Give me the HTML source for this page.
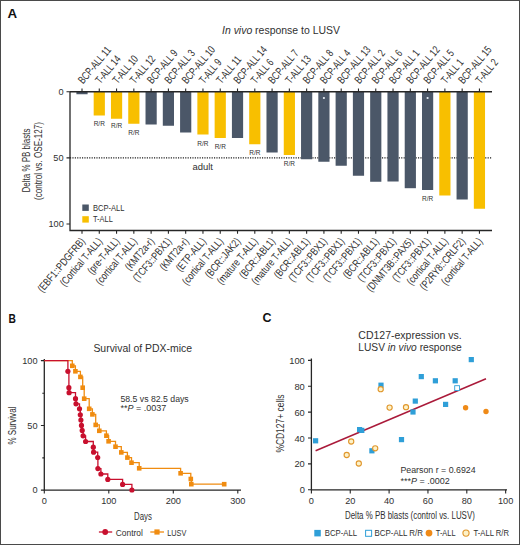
<!DOCTYPE html>
<html><head><meta charset="utf-8"><style>
html,body{margin:0;padding:0;background:#fff;}
body{width:520px;height:545px;overflow:hidden;}
svg{display:block;font-family:"Liberation Sans", sans-serif;}
</style></head><body>
<svg width="520" height="545" viewBox="0 0 520 545">
<rect x="0" y="0" width="520" height="545" fill="#fff"/>
<text x="7.6" y="18.3" font-size="13" text-anchor="start" fill="#111" font-weight="bold" textLength="9.6" lengthAdjust="spacingAndGlyphs"  style="">A</text>
<text x="222" y="34" font-size="11" text-anchor="start" fill="#303030" font-weight="normal" textLength="118" lengthAdjust="spacingAndGlyphs"  style=""><tspan font-style="italic">In vivo</tspan> response to LUSV</text>
<line x1="70" y1="157.9" x2="492" y2="157.9" stroke="#1a1a1a" stroke-width="1.25" stroke-dasharray="1.15 1.25"/>
<rect x="76.40" y="91.75" width="11.2" height="2.50" fill="#4b5768"/>
<rect x="93.68" y="91.75" width="11.2" height="23.75" fill="#f8bf00"/>
<rect x="110.96" y="91.75" width="11.2" height="27.00" fill="#f8bf00"/>
<rect x="128.24" y="91.75" width="11.2" height="32.00" fill="#f8bf00"/>
<rect x="145.52" y="91.75" width="11.2" height="32.75" fill="#4b5768"/>
<rect x="162.80" y="91.75" width="11.2" height="34.00" fill="#4b5768"/>
<rect x="180.08" y="91.75" width="11.2" height="40.75" fill="#4b5768"/>
<rect x="197.36" y="91.75" width="11.2" height="42.75" fill="#f8bf00"/>
<rect x="214.64" y="91.75" width="11.2" height="46.25" fill="#f8bf00"/>
<rect x="231.92" y="91.75" width="11.2" height="46.25" fill="#4b5768"/>
<rect x="249.20" y="91.75" width="11.2" height="52.50" fill="#f8bf00"/>
<rect x="266.48" y="91.75" width="11.2" height="60.75" fill="#4b5768"/>
<rect x="283.76" y="91.75" width="11.2" height="63.25" fill="#f8bf00"/>
<rect x="301.04" y="91.75" width="11.2" height="67.50" fill="#4b5768"/>
<rect x="318.32" y="91.75" width="11.2" height="70.00" fill="#4b5768"/>
<rect x="335.60" y="91.75" width="11.2" height="74.00" fill="#4b5768"/>
<rect x="352.88" y="91.75" width="11.2" height="84.00" fill="#4b5768"/>
<rect x="370.16" y="91.75" width="11.2" height="90.00" fill="#4b5768"/>
<rect x="387.44" y="91.75" width="11.2" height="89.75" fill="#4b5768"/>
<rect x="404.72" y="91.75" width="11.2" height="96.45" fill="#4b5768"/>
<rect x="422.00" y="91.75" width="11.2" height="98.25" fill="#4b5768"/>
<rect x="439.28" y="91.75" width="11.2" height="103.75" fill="#f8bf00"/>
<rect x="456.56" y="91.75" width="11.2" height="107.75" fill="#4b5768"/>
<rect x="473.84" y="91.75" width="11.2" height="117.00" fill="#f8bf00"/>
<circle cx="323.92" cy="98" r="1.1" fill="#e8eef5"/>
<circle cx="427.60" cy="98" r="1.1" fill="#e8eef5"/>
<text x="99.28" y="125.80" font-size="7.9" text-anchor="middle" fill="#303030" font-weight="normal" textLength="11.2" lengthAdjust="spacingAndGlyphs"  style="">R/R</text>
<text x="116.56" y="127.70" font-size="7.9" text-anchor="middle" fill="#303030" font-weight="normal" textLength="11.2" lengthAdjust="spacingAndGlyphs"  style="">R/R</text>
<text x="133.84" y="134.80" font-size="7.9" text-anchor="middle" fill="#303030" font-weight="normal" textLength="11.2" lengthAdjust="spacingAndGlyphs"  style="">R/R</text>
<text x="202.96" y="146.20" font-size="7.9" text-anchor="middle" fill="#303030" font-weight="normal" textLength="11.2" lengthAdjust="spacingAndGlyphs"  style="">R/R</text>
<text x="220.24" y="149.40" font-size="7.9" text-anchor="middle" fill="#303030" font-weight="normal" textLength="11.2" lengthAdjust="spacingAndGlyphs"  style="">R/R</text>
<text x="254.80" y="154.70" font-size="7.9" text-anchor="middle" fill="#303030" font-weight="normal" textLength="11.2" lengthAdjust="spacingAndGlyphs"  style="">R/R</text>
<text x="289.36" y="166.20" font-size="7.9" text-anchor="middle" fill="#303030" font-weight="normal" textLength="11.2" lengthAdjust="spacingAndGlyphs"  style="">R/R</text>
<text x="427.60" y="201.30" font-size="7.9" text-anchor="middle" fill="#303030" font-weight="normal" textLength="11.2" lengthAdjust="spacingAndGlyphs"  style="">R/R</text>
<text x="192.5" y="170.2" font-size="8.6" text-anchor="start" fill="#303030" font-weight="normal" textLength="20.5" lengthAdjust="spacingAndGlyphs"  style="">adult</text>
<path d="M70 91.75 V230.5 H492 M70 91.75 H492" fill="none" stroke="#262626" stroke-width="1.3"/>
<path d="M82.00 91.75 v-3.3 M82.00 230.5 v3.3 M99.28 91.75 v-3.3 M99.28 230.5 v3.3 M116.56 91.75 v-3.3 M116.56 230.5 v3.3 M133.84 91.75 v-3.3 M133.84 230.5 v3.3 M151.12 91.75 v-3.3 M151.12 230.5 v3.3 M168.40 91.75 v-3.3 M168.40 230.5 v3.3 M185.68 91.75 v-3.3 M185.68 230.5 v3.3 M202.96 91.75 v-3.3 M202.96 230.5 v3.3 M220.24 91.75 v-3.3 M220.24 230.5 v3.3 M237.52 91.75 v-3.3 M237.52 230.5 v3.3 M254.80 91.75 v-3.3 M254.80 230.5 v3.3 M272.08 91.75 v-3.3 M272.08 230.5 v3.3 M289.36 91.75 v-3.3 M289.36 230.5 v3.3 M306.64 91.75 v-3.3 M306.64 230.5 v3.3 M323.92 91.75 v-3.3 M323.92 230.5 v3.3 M341.20 91.75 v-3.3 M341.20 230.5 v3.3 M358.48 91.75 v-3.3 M358.48 230.5 v3.3 M375.76 91.75 v-3.3 M375.76 230.5 v3.3 M393.04 91.75 v-3.3 M393.04 230.5 v3.3 M410.32 91.75 v-3.3 M410.32 230.5 v3.3 M427.60 91.75 v-3.3 M427.60 230.5 v3.3 M444.88 91.75 v-3.3 M444.88 230.5 v3.3 M462.16 91.75 v-3.3 M462.16 230.5 v3.3 M479.44 91.75 v-3.3 M479.44 230.5 v3.3 M70 91.75 h-3.5 M70 157.9 h-3.5 M70 224.05 h-3.5" fill="none" stroke="#262626" stroke-width="1.1"/>
<text x="63.6" y="94.8" font-size="9.2" text-anchor="end" fill="#303030" font-weight="normal"  style="">0</text>
<text x="63.6" y="160.6" font-size="9.2" text-anchor="end" fill="#303030" font-weight="normal"  style="">50</text>
<text x="63.8" y="226.6" font-size="9.2" text-anchor="end" fill="#303030" font-weight="normal"  style="">100</text>
<g transform="translate(30.2 160.5) rotate(-90)"><text x="0" y="0" font-size="10" text-anchor="middle" fill="#303030" textLength="64" lengthAdjust="spacingAndGlyphs">Delta % PB blasts</text></g>
<g transform="translate(42.4 161) rotate(-90)"><text x="0" y="0" font-size="10" text-anchor="middle" fill="#303030" textLength="78" lengthAdjust="spacingAndGlyphs">(control vs. OSE-127)</text></g>
<rect x="82.3" y="204.5" width="6.5" height="6.4" fill="#4b5768"/>
<rect x="82.3" y="216.2" width="6.5" height="6.4" fill="#f8bf00"/>
<text x="93" y="210.6" font-size="8.4" text-anchor="start" fill="#303030" font-weight="normal" textLength="31.5" lengthAdjust="spacingAndGlyphs"  style="">BCP-ALL</text>
<text x="93" y="222.2" font-size="8.4" text-anchor="start" fill="#303030" font-weight="normal" textLength="19.8" lengthAdjust="spacingAndGlyphs"  style="">T-ALL</text>
<g transform="translate(83.00 84.6) rotate(-50)"><text x="0" y="0" font-size="11" fill="#303030" textLength="44.68" lengthAdjust="spacingAndGlyphs">BCP-ALL 11</text></g>
<g transform="translate(100.28 84.6) rotate(-50)"><text x="0" y="0" font-size="11" fill="#303030" textLength="32.98" lengthAdjust="spacingAndGlyphs">T-ALL 14</text></g>
<g transform="translate(117.56 84.6) rotate(-50)"><text x="0" y="0" font-size="11" fill="#303030" textLength="32.98" lengthAdjust="spacingAndGlyphs">T-ALL 10</text></g>
<g transform="translate(134.84 84.6) rotate(-50)"><text x="0" y="0" font-size="11" fill="#303030" textLength="32.98" lengthAdjust="spacingAndGlyphs">T-ALL 12</text></g>
<g transform="translate(152.12 84.6) rotate(-50)"><text x="0" y="0" font-size="11" fill="#303030" textLength="40.72" lengthAdjust="spacingAndGlyphs">BCP-ALL 9</text></g>
<g transform="translate(169.40 84.6) rotate(-50)"><text x="0" y="0" font-size="11" fill="#303030" textLength="40.72" lengthAdjust="spacingAndGlyphs">BCP-ALL 3</text></g>
<g transform="translate(186.68 84.6) rotate(-50)"><text x="0" y="0" font-size="11" fill="#303030" textLength="45.28" lengthAdjust="spacingAndGlyphs">BCP-ALL 10</text></g>
<g transform="translate(203.96 84.6) rotate(-50)"><text x="0" y="0" font-size="11" fill="#303030" textLength="28.42" lengthAdjust="spacingAndGlyphs">T-ALL 9</text></g>
<g transform="translate(221.24 84.6) rotate(-50)"><text x="0" y="0" font-size="11" fill="#303030" textLength="32.36" lengthAdjust="spacingAndGlyphs">T-ALL 11</text></g>
<g transform="translate(238.52 84.6) rotate(-50)"><text x="0" y="0" font-size="11" fill="#303030" textLength="45.28" lengthAdjust="spacingAndGlyphs">BCP-ALL 14</text></g>
<g transform="translate(255.80 84.6) rotate(-50)"><text x="0" y="0" font-size="11" fill="#303030" textLength="28.42" lengthAdjust="spacingAndGlyphs">T-ALL 6</text></g>
<g transform="translate(273.08 84.6) rotate(-50)"><text x="0" y="0" font-size="11" fill="#303030" textLength="40.72" lengthAdjust="spacingAndGlyphs">BCP-ALL 7</text></g>
<g transform="translate(290.36 84.6) rotate(-50)"><text x="0" y="0" font-size="11" fill="#303030" textLength="32.98" lengthAdjust="spacingAndGlyphs">T-ALL 13</text></g>
<g transform="translate(307.64 84.6) rotate(-50)"><text x="0" y="0" font-size="11" fill="#303030" textLength="40.72" lengthAdjust="spacingAndGlyphs">BCP-ALL 8</text></g>
<g transform="translate(324.92 84.6) rotate(-50)"><text x="0" y="0" font-size="11" fill="#303030" textLength="40.72" lengthAdjust="spacingAndGlyphs">BCP-ALL 4</text></g>
<g transform="translate(342.20 84.6) rotate(-50)"><text x="0" y="0" font-size="11" fill="#303030" textLength="45.28" lengthAdjust="spacingAndGlyphs">BCP-ALL 13</text></g>
<g transform="translate(359.48 84.6) rotate(-50)"><text x="0" y="0" font-size="11" fill="#303030" textLength="40.72" lengthAdjust="spacingAndGlyphs">BCP-ALL 2</text></g>
<g transform="translate(376.76 84.6) rotate(-50)"><text x="0" y="0" font-size="11" fill="#303030" textLength="40.72" lengthAdjust="spacingAndGlyphs">BCP-ALL 6</text></g>
<g transform="translate(394.04 84.6) rotate(-50)"><text x="0" y="0" font-size="11" fill="#303030" textLength="40.72" lengthAdjust="spacingAndGlyphs">BCP-ALL 1</text></g>
<g transform="translate(411.32 84.6) rotate(-50)"><text x="0" y="0" font-size="11" fill="#303030" textLength="45.28" lengthAdjust="spacingAndGlyphs">BCP-ALL 12</text></g>
<g transform="translate(428.60 84.6) rotate(-50)"><text x="0" y="0" font-size="11" fill="#303030" textLength="40.72" lengthAdjust="spacingAndGlyphs">BCP-ALL 5</text></g>
<g transform="translate(445.88 84.6) rotate(-50)"><text x="0" y="0" font-size="11" fill="#303030" textLength="28.42" lengthAdjust="spacingAndGlyphs">T-ALL 1</text></g>
<g transform="translate(463.16 84.6) rotate(-50)"><text x="0" y="0" font-size="11" fill="#303030" textLength="45.28" lengthAdjust="spacingAndGlyphs">BCP-ALL 15</text></g>
<g transform="translate(480.44 84.6) rotate(-50)"><text x="0" y="0" font-size="11" fill="#303030" textLength="28.42" lengthAdjust="spacingAndGlyphs">T-ALL 2</text></g>
<g transform="translate(85.60 241.6) rotate(-50)"><text x="0" y="0" font-size="10.8" text-anchor="end" fill="#303030" textLength="67.07" lengthAdjust="spacingAndGlyphs">(EBF1::PDGFRB)</text></g>
<g transform="translate(102.88 241.6) rotate(-50)"><text x="0" y="0" font-size="10.8" text-anchor="end" fill="#303030" textLength="59.37" lengthAdjust="spacingAndGlyphs">(Cortical T-ALL)</text></g>
<g transform="translate(120.16 241.6) rotate(-50)"><text x="0" y="0" font-size="10.8" text-anchor="end" fill="#303030" textLength="43.46" lengthAdjust="spacingAndGlyphs">(pre-T-ALL)</text></g>
<g transform="translate(137.44 241.6) rotate(-50)"><text x="0" y="0" font-size="10.8" text-anchor="end" fill="#303030" textLength="57.48" lengthAdjust="spacingAndGlyphs">(cortical T-ALL)</text></g>
<g transform="translate(154.72 241.6) rotate(-50)"><text x="0" y="0" font-size="10.8" text-anchor="end" fill="#303030" textLength="38.73" lengthAdjust="spacingAndGlyphs">(KMT2a-r)</text></g>
<g transform="translate(172.00 241.6) rotate(-50)"><text x="0" y="0" font-size="10.8" text-anchor="end" fill="#303030" textLength="53.38" lengthAdjust="spacingAndGlyphs">(TCF3::PBX1)</text></g>
<g transform="translate(189.28 241.6) rotate(-50)"><text x="0" y="0" font-size="10.8" text-anchor="end" fill="#303030" textLength="38.73" lengthAdjust="spacingAndGlyphs">(KMT2a-r)</text></g>
<g transform="translate(206.56 241.6) rotate(-50)"><text x="0" y="0" font-size="10.8" text-anchor="end" fill="#303030" textLength="40.15" lengthAdjust="spacingAndGlyphs">(ETP-ALL)</text></g>
<g transform="translate(223.84 241.6) rotate(-50)"><text x="0" y="0" font-size="10.8" text-anchor="end" fill="#303030" textLength="57.48" lengthAdjust="spacingAndGlyphs">(cortical T-ALL)</text></g>
<g transform="translate(241.12 241.6) rotate(-50)"><text x="0" y="0" font-size="10.8" text-anchor="end" fill="#303030" textLength="48.65" lengthAdjust="spacingAndGlyphs">(BCR::JAK2)</text></g>
<g transform="translate(258.40 241.6) rotate(-50)"><text x="0" y="0" font-size="10.8" text-anchor="end" fill="#303030" textLength="57.00" lengthAdjust="spacingAndGlyphs">(mature T-ALL)</text></g>
<g transform="translate(275.68 241.6) rotate(-50)"><text x="0" y="0" font-size="10.8" text-anchor="end" fill="#303030" textLength="49.13" lengthAdjust="spacingAndGlyphs">(BCR::ABL1)</text></g>
<g transform="translate(292.96 241.6) rotate(-50)"><text x="0" y="0" font-size="10.8" text-anchor="end" fill="#303030" textLength="57.00" lengthAdjust="spacingAndGlyphs">(mature T-ALL)</text></g>
<g transform="translate(310.24 241.6) rotate(-50)"><text x="0" y="0" font-size="10.8" text-anchor="end" fill="#303030" textLength="49.13" lengthAdjust="spacingAndGlyphs">(BCR::ABL1)</text></g>
<g transform="translate(327.52 241.6) rotate(-50)"><text x="0" y="0" font-size="10.8" text-anchor="end" fill="#303030" textLength="53.38" lengthAdjust="spacingAndGlyphs">(TCF3::PBX1)</text></g>
<g transform="translate(344.80 241.6) rotate(-50)"><text x="0" y="0" font-size="10.8" text-anchor="end" fill="#303030" textLength="53.38" lengthAdjust="spacingAndGlyphs">(TCF3::PBX1)</text></g>
<g transform="translate(362.08 241.6) rotate(-50)"><text x="0" y="0" font-size="10.8" text-anchor="end" fill="#303030" textLength="53.38" lengthAdjust="spacingAndGlyphs">(TCF3::PBX1)</text></g>
<g transform="translate(379.36 241.6) rotate(-50)"><text x="0" y="0" font-size="10.8" text-anchor="end" fill="#303030" textLength="49.13" lengthAdjust="spacingAndGlyphs">(BCR::ABL1)</text></g>
<g transform="translate(396.64 241.6) rotate(-50)"><text x="0" y="0" font-size="10.8" text-anchor="end" fill="#303030" textLength="53.38" lengthAdjust="spacingAndGlyphs">(TCF3::PBX1)</text></g>
<g transform="translate(413.92 241.6) rotate(-50)"><text x="0" y="0" font-size="10.8" text-anchor="end" fill="#303030" textLength="66.45" lengthAdjust="spacingAndGlyphs">(DNMT3B::PAX5)</text></g>
<g transform="translate(431.20 241.6) rotate(-50)"><text x="0" y="0" font-size="10.8" text-anchor="end" fill="#303030" textLength="53.38" lengthAdjust="spacingAndGlyphs">(TCF3::PBX1)</text></g>
<g transform="translate(448.48 241.6) rotate(-50)"><text x="0" y="0" font-size="10.8" text-anchor="end" fill="#303030" textLength="57.48" lengthAdjust="spacingAndGlyphs">(cortical T-ALL)</text></g>
<g transform="translate(465.76 241.6) rotate(-50)"><text x="0" y="0" font-size="10.8" text-anchor="end" fill="#303030" textLength="64.10" lengthAdjust="spacingAndGlyphs">(P2RY8::CRLF2)</text></g>
<g transform="translate(483.04 241.6) rotate(-50)"><text x="0" y="0" font-size="10.8" text-anchor="end" fill="#303030" textLength="57.48" lengthAdjust="spacingAndGlyphs">(cortical T-ALL)</text></g>
<text x="8.5" y="322.6" font-size="12.8" text-anchor="start" fill="#111" font-weight="bold" textLength="7.4" lengthAdjust="spacingAndGlyphs"  style="">B</text>
<text x="93.4" y="352.3" font-size="11.6" text-anchor="start" fill="#303030" font-weight="normal" textLength="98.6" lengthAdjust="spacingAndGlyphs"  style="">Survival of PDX-mice</text>
<path d="M44.3 359.1 V490.1 H241" fill="none" stroke="#262626" stroke-width="1.3"/>
<path d="M44.3 360.6 h-3.4 M44.3 425.55 h-3.4 M44.3 490.1 h-3.4 M44.3 393.28 h-2 M44.3 457.83 h-2 M44.30 490.1 v3.4 M108.80 490.1 v3.4 M173.30 490.1 v3.4 M237.80 490.1 v3.4 " fill="none" stroke="#262626" stroke-width="1.1"/>
<text x="37.5" y="363.8" font-size="9.2" text-anchor="end" fill="#303030" font-weight="normal"  style="">100</text>
<text x="37.5" y="428.6" font-size="9.2" text-anchor="end" fill="#303030" font-weight="normal"  style="">50</text>
<text x="37.5" y="492.9" font-size="9.2" text-anchor="end" fill="#303030" font-weight="normal"  style="">0</text>
<text x="44.30" y="504.4" font-size="9.2" text-anchor="middle" fill="#303030" font-weight="normal"  style="">0</text>
<text x="108.80" y="504.4" font-size="9.2" text-anchor="middle" fill="#303030" font-weight="normal"  style="">100</text>
<text x="173.30" y="504.4" font-size="9.2" text-anchor="middle" fill="#303030" font-weight="normal"  style="">200</text>
<text x="237.80" y="504.4" font-size="9.2" text-anchor="middle" fill="#303030" font-weight="normal"  style="">300</text>
<g transform="translate(16.3 425.6) rotate(-90)"><text x="0" y="0" font-size="10" text-anchor="middle" fill="#303030" textLength="38" lengthAdjust="spacingAndGlyphs">% Survival</text></g>
<text x="134" y="520.2" font-size="10" text-anchor="start" fill="#303030" font-weight="normal" textLength="17.8" lengthAdjust="spacingAndGlyphs"  style="">Days</text>
<text x="120.4" y="401.8" font-size="9.2" text-anchor="start" fill="#303030" font-weight="normal" textLength="68.3" lengthAdjust="spacingAndGlyphs"  style="">58.5 vs 82.5 days</text>
<text x="120.4" y="411.3" font-size="9.2" text-anchor="start" fill="#303030" font-weight="normal" textLength="45.8" lengthAdjust="spacingAndGlyphs"  style="">**<tspan font-style="italic">P</tspan> = .0037</text>
<path d="M44.3 360.6 H72.3 V365.8 H75.4 V371.3 H80.4 V376.9 H82.7 V387.7 H84.2 V398.7 H89.2 V408.8 H92.4 V414.4 H95.7 V424.9 H99.3 V430.8 H106.4 V435.7 H108.6 V441.3 H115.5 V446.7 H121.3 V452.4 H127.4 V457.6 H131.5 V462.7 H139.2 V468.3 H180.6 V473.3 H190.8 V479 H191.3 V484.2 H224.2 V484.2" fill="none" stroke="#f08c10" stroke-width="1.3"/>
<path d="M44.3 360.6 H67.9 V371.3 H68.9 V387.7 H69.1 V392.7 H75.5 V398.7 H76 V403.8 H79.5 V408.8 H80.3 V414.8 H80.9 V420 H81.5 V425.4 H82.2 V430.4 H83.1 V435.8 H85.6 V441.5 H93.3 V447.2 H93.6 V452.2 H97.7 V457.5 H97.9 V468.6 H100.9 V474 H107.8 V479.4 H122.6 V484.4 H131.9 V490" fill="none" stroke="#c8102e" stroke-width="1.3"/>
<rect x="70.00" y="363.50" width="4.6" height="4.6" fill="#f08c10"/>
<rect x="73.10" y="369.00" width="4.6" height="4.6" fill="#f08c10"/>
<rect x="78.10" y="374.60" width="4.6" height="4.6" fill="#f08c10"/>
<rect x="80.40" y="385.40" width="4.6" height="4.6" fill="#f08c10"/>
<rect x="81.90" y="396.40" width="4.6" height="4.6" fill="#f08c10"/>
<rect x="86.90" y="406.50" width="4.6" height="4.6" fill="#f08c10"/>
<rect x="90.10" y="412.10" width="4.6" height="4.6" fill="#f08c10"/>
<rect x="93.40" y="422.60" width="4.6" height="4.6" fill="#f08c10"/>
<rect x="97.00" y="428.50" width="4.6" height="4.6" fill="#f08c10"/>
<rect x="104.10" y="433.40" width="4.6" height="4.6" fill="#f08c10"/>
<rect x="106.30" y="439.00" width="4.6" height="4.6" fill="#f08c10"/>
<rect x="113.20" y="444.40" width="4.6" height="4.6" fill="#f08c10"/>
<rect x="119.00" y="450.10" width="4.6" height="4.6" fill="#f08c10"/>
<rect x="125.10" y="455.30" width="4.6" height="4.6" fill="#f08c10"/>
<rect x="129.20" y="460.40" width="4.6" height="4.6" fill="#f08c10"/>
<rect x="136.90" y="466.00" width="4.6" height="4.6" fill="#f08c10"/>
<rect x="178.30" y="471.00" width="4.6" height="4.6" fill="#f08c10"/>
<rect x="188.50" y="476.70" width="4.6" height="4.6" fill="#f08c10"/>
<rect x="189.00" y="481.90" width="4.6" height="4.6" fill="#f08c10"/>
<rect x="221.90" y="481.90" width="4.6" height="4.6" fill="#f08c10"/>
<circle cx="67.9" cy="371.3" r="2.6" fill="#c8102e"/>
<circle cx="68.9" cy="387.7" r="2.6" fill="#c8102e"/>
<circle cx="69.1" cy="392.7" r="2.6" fill="#c8102e"/>
<circle cx="75.5" cy="398.7" r="2.6" fill="#c8102e"/>
<circle cx="76" cy="403.8" r="2.6" fill="#c8102e"/>
<circle cx="79.5" cy="408.8" r="2.6" fill="#c8102e"/>
<circle cx="80.3" cy="414.8" r="2.6" fill="#c8102e"/>
<circle cx="80.9" cy="420" r="2.6" fill="#c8102e"/>
<circle cx="81.5" cy="425.4" r="2.6" fill="#c8102e"/>
<circle cx="82.2" cy="430.4" r="2.6" fill="#c8102e"/>
<circle cx="83.1" cy="435.8" r="2.6" fill="#c8102e"/>
<circle cx="85.6" cy="441.5" r="2.6" fill="#c8102e"/>
<circle cx="93.3" cy="447.2" r="2.6" fill="#c8102e"/>
<circle cx="93.6" cy="452.2" r="2.6" fill="#c8102e"/>
<circle cx="97.7" cy="457.5" r="2.6" fill="#c8102e"/>
<circle cx="97.9" cy="468.6" r="2.6" fill="#c8102e"/>
<circle cx="100.9" cy="474" r="2.6" fill="#c8102e"/>
<circle cx="107.8" cy="479.4" r="2.6" fill="#c8102e"/>
<circle cx="122.6" cy="484.4" r="2.6" fill="#c8102e"/>
<circle cx="131.9" cy="490" r="2.6" fill="#c8102e"/>
<line x1="98.9" y1="532" x2="112.2" y2="532" stroke="#c8102e" stroke-width="1.3"/><circle cx="105.2" cy="532" r="2.9" fill="#c8102e"/>
<text x="115.8" y="535.8" font-size="9.2" text-anchor="start" fill="#303030" font-weight="normal" textLength="27.1" lengthAdjust="spacingAndGlyphs"  style="">Control</text>
<line x1="150.3" y1="532" x2="164" y2="532" stroke="#f08c10" stroke-width="1.3"/><rect x="154.4" y="529.4" width="5.2" height="5.2" fill="#f08c10"/>
<text x="167.2" y="535.8" font-size="9.2" text-anchor="start" fill="#303030" font-weight="normal" textLength="19.1" lengthAdjust="spacingAndGlyphs"  style="">LUSV</text>
<text x="262.4" y="322.4" font-size="12.8" text-anchor="start" fill="#111" font-weight="bold" textLength="9" lengthAdjust="spacingAndGlyphs"  style="">C</text>
<text x="410" y="338.7" font-size="11.5" text-anchor="middle" fill="#303030" font-weight="normal" textLength="103.4" lengthAdjust="spacingAndGlyphs"  style="">CD127-expression vs.</text>
<text x="410" y="351.2" font-size="11.5" text-anchor="middle" fill="#303030" font-weight="normal" textLength="103.4" lengthAdjust="spacingAndGlyphs"  style="">LUSV <tspan font-style="italic">in vivo</tspan> response</text>
<path d="M311.4 358.5 V489.8 H507" fill="none" stroke="#262626" stroke-width="1.3"/>
<path d="M311.4 489.80 h-3.4 M311.40 489.8 v3.6 M311.4 463.91 h-3.4 M350.25 489.8 v3.6 M311.4 438.02 h-3.4 M389.10 489.8 v3.6 M311.4 412.13 h-3.4 M427.95 489.8 v3.6 M311.4 386.24 h-3.4 M466.80 489.8 v3.6 M311.4 360.35 h-3.4 M505.65 489.8 v3.6 " fill="none" stroke="#262626" stroke-width="1.1"/>
<text x="304.8" y="493.30" font-size="9.3" text-anchor="end" fill="#303030" font-weight="normal"  style="">0</text>
<text x="311.40" y="504.4" font-size="9.2" text-anchor="middle" fill="#303030" font-weight="normal"  style="">0</text>
<text x="304.8" y="467.41" font-size="9.3" text-anchor="end" fill="#303030" font-weight="normal"  style="">20</text>
<text x="350.25" y="504.4" font-size="9.2" text-anchor="middle" fill="#303030" font-weight="normal"  style="">20</text>
<text x="304.8" y="441.52" font-size="9.3" text-anchor="end" fill="#303030" font-weight="normal"  style="">40</text>
<text x="389.10" y="504.4" font-size="9.2" text-anchor="middle" fill="#303030" font-weight="normal"  style="">40</text>
<text x="304.8" y="415.63" font-size="9.3" text-anchor="end" fill="#303030" font-weight="normal"  style="">60</text>
<text x="427.95" y="504.4" font-size="9.2" text-anchor="middle" fill="#303030" font-weight="normal"  style="">60</text>
<text x="304.8" y="389.74" font-size="9.3" text-anchor="end" fill="#303030" font-weight="normal"  style="">80</text>
<text x="466.80" y="504.4" font-size="9.2" text-anchor="middle" fill="#303030" font-weight="normal"  style="">80</text>
<text x="304.8" y="363.85" font-size="9.3" text-anchor="end" fill="#303030" font-weight="normal"  style="">100</text>
<text x="505.65" y="504.4" font-size="9.2" text-anchor="middle" fill="#303030" font-weight="normal"  style="">100</text>
<g transform="translate(284.4 423.6) rotate(-90)"><text x="0" y="0" font-size="10.6" text-anchor="middle" fill="#303030" textLength="58" lengthAdjust="spacingAndGlyphs">%CD127+ cells</text></g>
<text x="345" y="519" font-size="10" text-anchor="start" fill="#303030" font-weight="normal" textLength="129.8" lengthAdjust="spacingAndGlyphs"  style="">Delta % PB blasts (control vs. LUSV)</text>
<line x1="315.6" y1="450.8" x2="486" y2="378.8" stroke="#aa1a3a" stroke-width="1.5"/>
<rect x="313.00" y="438.20" width="5.2" height="5.2" fill="#2f9fd8"/>
<rect x="357.00" y="427.00" width="5.2" height="5.2" fill="#2f9fd8"/>
<rect x="359.20" y="427.80" width="5.2" height="5.2" fill="#2f9fd8"/>
<rect x="369.30" y="448.20" width="5.2" height="5.2" fill="#2f9fd8"/>
<rect x="378.40" y="382.60" width="5.2" height="5.2" fill="#2f9fd8"/>
<rect x="398.90" y="437.00" width="5.2" height="5.2" fill="#2f9fd8"/>
<rect x="410.40" y="409.40" width="5.2" height="5.2" fill="#2f9fd8"/>
<rect x="412.70" y="398.50" width="5.2" height="5.2" fill="#2f9fd8"/>
<rect x="418.70" y="374.00" width="5.2" height="5.2" fill="#2f9fd8"/>
<rect x="432.80" y="378.20" width="5.2" height="5.2" fill="#2f9fd8"/>
<rect x="443.00" y="401.80" width="5.2" height="5.2" fill="#2f9fd8"/>
<rect x="452.60" y="378.20" width="5.2" height="5.2" fill="#2f9fd8"/>
<rect x="468.70" y="357.00" width="5.2" height="5.2" fill="#2f9fd8"/>
<rect x="454.70" y="385.70" width="4.8" height="4.8" fill="#fff" stroke="#2f9fd8" stroke-width="0.9"/>
<circle cx="346.7" cy="455" r="2.6" fill="#fdf2c8" stroke="#e0962c" stroke-width="1.1"/>
<circle cx="351.2" cy="441.5" r="2.6" fill="#fdf2c8" stroke="#e0962c" stroke-width="1.1"/>
<circle cx="358.8" cy="463.5" r="2.6" fill="#fdf2c8" stroke="#e0962c" stroke-width="1.1"/>
<circle cx="375.2" cy="448.3" r="2.6" fill="#fdf2c8" stroke="#e0962c" stroke-width="1.1"/>
<circle cx="380.7" cy="389.2" r="2.6" fill="#fdf2c8" stroke="#e0962c" stroke-width="1.1"/>
<circle cx="389.6" cy="407.6" r="2.6" fill="#fdf2c8" stroke="#e0962c" stroke-width="1.1"/>
<circle cx="406" cy="407.2" r="2.6" fill="#fdf2c8" stroke="#e0962c" stroke-width="1.1"/>
<circle cx="465.6" cy="407.7" r="2.7" fill="#ef8a17"/>
<circle cx="486" cy="411.5" r="2.7" fill="#ef8a17"/>
<text x="400.4" y="473" font-size="9.2" text-anchor="start" fill="#303030" font-weight="normal" textLength="75.3" lengthAdjust="spacingAndGlyphs"  style="">Pearson r = 0.6924</text>
<text x="400.4" y="483.6" font-size="9.2" text-anchor="start" fill="#303030" font-weight="normal" textLength="49.3" lengthAdjust="spacingAndGlyphs"  style="">***<tspan font-style="italic">P</tspan> = .0002</text>
<rect x="314.3" y="529.9" width="6.5" height="6.5" fill="#2f9fd8"/>
<text x="324.8" y="536.3" font-size="9" text-anchor="start" fill="#303030" font-weight="normal" textLength="32.2" lengthAdjust="spacingAndGlyphs"  style="">BCP-ALL</text>
<rect x="365.6" y="530.3" width="6" height="6" fill="#fff" stroke="#2f9fd8" stroke-width="1"/>
<text x="374.5" y="536.3" font-size="9" text-anchor="start" fill="#303030" font-weight="normal" textLength="48.5" lengthAdjust="spacingAndGlyphs"  style="">BCP-ALL R/R</text>
<circle cx="429" cy="533.1" r="3.4" fill="#ef8a17"/>
<text x="435.8" y="536.3" font-size="9" text-anchor="start" fill="#303030" font-weight="normal" textLength="19.7" lengthAdjust="spacingAndGlyphs"  style="">T-ALL</text>
<circle cx="466" cy="533.1" r="3.1" fill="#fdf2c8" stroke="#e0962c" stroke-width="1.1"/>
<text x="473.5" y="536.3" font-size="9" text-anchor="start" fill="#303030" font-weight="normal" textLength="35.5" lengthAdjust="spacingAndGlyphs"  style="">T-ALL R/R</text>
<rect x="0.5" y="0.5" width="519" height="544" fill="none" stroke="#4a4a4a" stroke-width="1"/>
</svg>
</body></html>
